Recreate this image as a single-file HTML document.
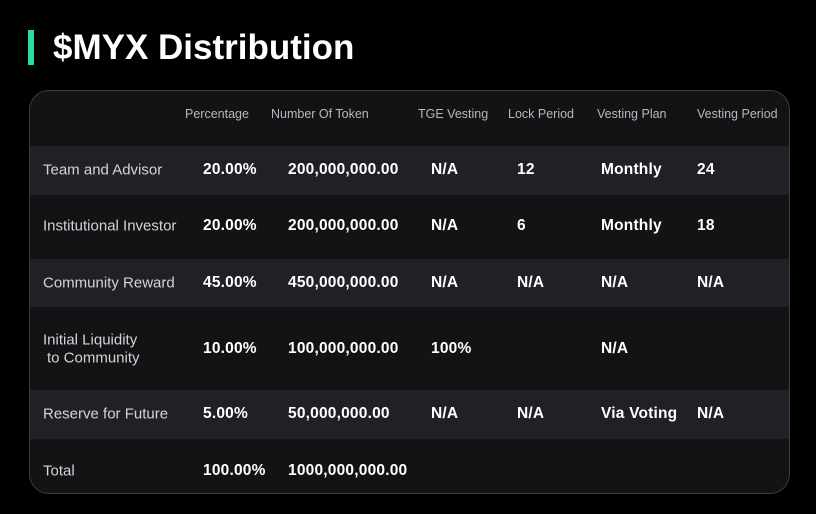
<!DOCTYPE html>
<html><head><style>
body{margin:0;width:816px;height:514px;background:#000;overflow:hidden;font-family:"Liberation Sans",sans-serif;position:relative}
.bar{position:absolute;left:28px;top:30px;width:6px;height:35px;background:#2fd9a2}
.title{position:absolute;left:53px;top:27px;font-size:35px;color:#fff;font-weight:bold;letter-spacing:0px;line-height:42px}
.card{position:absolute;left:29px;top:90px;width:761px;height:404px;background:#131316;border:1px solid #3c3c40;border-radius:20px;overflow:hidden;box-sizing:border-box}
.row{position:absolute;left:0;width:100%}
.l{background:#202127}
.t{position:absolute;white-space:nowrap;transform:translateY(-50%)}
.h{font-size:12.5px;color:#b8b8bc}
.n{font-size:15px;color:#d4d4d8}
.b{font-size:15.5px;color:#fff;font-weight:bold;letter-spacing:0.2px}
</style></head><body>
<div class="bar"></div>
<div class="title">$MYX Distribution</div>
<div class="card">
<div class="row l" style="top:55px;height:49px"></div>
<div class="row l" style="top:168px;height:48px"></div>
<div class="row l" style="top:299px;height:49px"></div>
</div>
<div class="t h" style="left:185px;top:114px">Percentage</div>
<div class="t h" style="left:271px;top:114px">Number Of Token</div>
<div class="t h" style="left:418px;top:114px">TGE Vesting</div>
<div class="t h" style="left:508px;top:114px">Lock Period</div>
<div class="t h" style="left:597px;top:114px">Vesting Plan</div>
<div class="t h" style="left:697px;top:114px">Vesting Period</div>

<div class="t n" style="left:43px;top:170px">Team and Advisor</div>
<div class="t b" style="left:203px;top:170px">20.00%</div>
<div class="t b" style="left:288px;top:170px">200,000,000.00</div>
<div class="t b" style="left:431px;top:170px">N/A</div>
<div class="t b" style="left:517px;top:170px">12</div>
<div class="t b" style="left:601px;top:170px">Monthly</div>
<div class="t b" style="left:697px;top:170px">24</div>

<div class="t n" style="left:43px;top:226px">Institutional Investor</div>
<div class="t b" style="left:203px;top:226px">20.00%</div>
<div class="t b" style="left:288px;top:226px">200,000,000.00</div>
<div class="t b" style="left:431px;top:226px">N/A</div>
<div class="t b" style="left:517px;top:226px">6</div>
<div class="t b" style="left:601px;top:226px">Monthly</div>
<div class="t b" style="left:697px;top:226px">18</div>

<div class="t n" style="left:43px;top:283px">Community Reward</div>
<div class="t b" style="left:203px;top:283px">45.00%</div>
<div class="t b" style="left:288px;top:283px">450,000,000.00</div>
<div class="t b" style="left:431px;top:283px">N/A</div>
<div class="t b" style="left:517px;top:283px">N/A</div>
<div class="t b" style="left:601px;top:283px">N/A</div>
<div class="t b" style="left:697px;top:283px">N/A</div>

<div class="t n" style="left:43px;top:340px">Initial Liquidity</div>
<div class="t n" style="left:47px;top:358px">to Community</div>
<div class="t b" style="left:203px;top:349px">10.00%</div>
<div class="t b" style="left:288px;top:349px">100,000,000.00</div>
<div class="t b" style="left:431px;top:349px">100%</div>
<div class="t b" style="left:601px;top:349px">N/A</div>

<div class="t n" style="left:43px;top:414px">Reserve for Future</div>
<div class="t b" style="left:203px;top:414px">5.00%</div>
<div class="t b" style="left:288px;top:414px">50,000,000.00</div>
<div class="t b" style="left:431px;top:414px">N/A</div>
<div class="t b" style="left:517px;top:414px">N/A</div>
<div class="t b" style="left:601px;top:414px">Via Voting</div>
<div class="t b" style="left:697px;top:414px">N/A</div>

<div class="t n" style="left:43px;top:471px">Total</div>
<div class="t b" style="left:203px;top:471px">100.00%</div>
<div class="t b" style="left:288px;top:471px">1000,000,000.00</div>
</body></html>
